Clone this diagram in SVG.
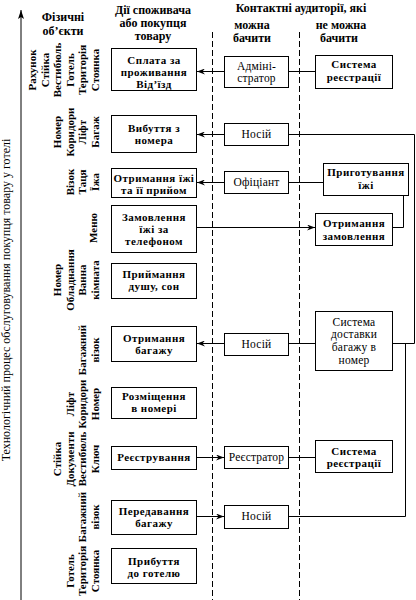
<svg xmlns="http://www.w3.org/2000/svg" width="416" height="600" viewBox="0 0 416 600">
<defs>
<marker id="ah" markerUnits="userSpaceOnUse" markerWidth="8" markerHeight="6" viewBox="0 0 8 6" refX="8" refY="3" orient="auto">
<path d="M0,0 L8,3 L0,6 L2.5,3 z" fill="#000"/>
</marker>
<marker id="axh" markerUnits="userSpaceOnUse" markerWidth="9" markerHeight="6" viewBox="0 0 9 6" refX="9" refY="3" orient="auto">
<path d="M0,0 L9,3 L0,6 L2,3 z" fill="#000"/>
</marker>
<style>
.box{fill:#fff;stroke:#000;stroke-width:1}
.h{font-family:"Liberation Serif","Times New Roman",serif;font-weight:bold;font-size:12px;text-anchor:middle;fill:#000}
.b{font-family:"Liberation Serif","Times New Roman",serif;font-weight:bold;font-size:11px;letter-spacing:0.45px;text-anchor:middle;fill:#000}
.n{font-family:"Liberation Serif","Times New Roman",serif;font-size:11.5px;letter-spacing:0.2px;text-anchor:middle;fill:#000}
.ax{font-family:"Liberation Serif","Times New Roman",serif;font-size:12px;text-anchor:middle;fill:#000}
.po{font-family:"Liberation Serif","Times New Roman",serif;font-weight:bold;font-size:11px;text-anchor:middle;fill:#000}
.dash{stroke:#000;stroke-width:1;stroke-dasharray:6 3;fill:none}
.c{stroke:#000;stroke-width:1;fill:none}
</style>
</defs>
<rect x="0" y="0" width="416" height="600" fill="#fff"/>

<g id="axis">
<line class="c" x1="21" y1="600" x2="21" y2="10" marker-end="url(#axh)"/>
<text class="ax" transform="translate(10,300) rotate(-90)">Технологічний процес обслуговування покупця товару у готелі</text>
</g>

<g id="headers">
<text class="h" x="63" y="21">Фізичні</text>
<text class="h" x="63" y="34.5">об’єкти</text>
<text class="h" x="153" y="13.5">Дії споживача</text>
<text class="h" x="153" y="26.8">або покупця</text>
<text class="h" x="153" y="40.1">товару</text>
<text class="h" x="301" y="12">Контактні аудиторії, які</text>
<text class="h" x="252" y="28.5">можна</text>
<text class="h" x="252" y="41.8">бачити</text>
<text class="h" x="341" y="28.5">не можна</text>
<text class="h" x="339" y="41.8">бачити</text>
</g>

<g id="separators">
<line class="dash" x1="212.5" y1="32" x2="212.5" y2="600"/>
<line class="dash" x1="299.5" y1="32" x2="299.5" y2="600"/>
</g>

<g id="objects">
<text class="po" transform="translate(36,70) rotate(-90)"><tspan x="0" y="0">Рахунок</tspan><tspan x="0" y="12.5">Стійка</tspan><tspan x="0" y="25">Вестибюль</tspan><tspan x="0" y="37.5">Готель</tspan><tspan x="0" y="50">Територія</tspan><tspan x="0" y="62.5">Стоянка</tspan></text>
<text class="po" transform="translate(61,132) rotate(-90)"><tspan x="0" y="0">Номер</tspan><tspan x="0" y="12.5">Коридори</tspan><tspan x="0" y="25">Ліфт</tspan><tspan x="0" y="37.5">Багаж</tspan></text>
<text class="po" transform="translate(73.5,182) rotate(-90)"><tspan x="0" y="0">Візок</tspan><tspan x="0" y="12.5">Таця</tspan><tspan x="0" y="25">Їжа</tspan></text>
<text class="po" transform="translate(97,228) rotate(-90)"><tspan x="0" y="0">Меню</tspan></text>
<text class="po" transform="translate(61,280) rotate(-90)"><tspan x="0" y="0">Номер</tspan><tspan x="0" y="12.5">Обладнання</tspan><tspan x="0" y="25">Ванна</tspan><tspan x="0" y="37.5">кімната</tspan></text>
<text class="po" transform="translate(86,350) rotate(-90)"><tspan x="0" y="0">Багажний</tspan><tspan x="0" y="12.5">візок</tspan></text>
<text class="po" transform="translate(73.5,404) rotate(-90)"><tspan x="0" y="0">Ліфт</tspan><tspan x="0" y="12.5">Коридори</tspan><tspan x="0" y="25">Номер</tspan></text>
<text class="po" transform="translate(61,459) rotate(-90)"><tspan x="0" y="0">Стійка</tspan><tspan x="0" y="12.5">Документи</tspan><tspan x="0" y="25">Вестибюль</tspan><tspan x="0" y="37.5">Ключ</tspan></text>
<text class="po" transform="translate(86,517) rotate(-90)"><tspan x="0" y="0">Багажний</tspan><tspan x="0" y="12.5">візок</tspan></text>
<text class="po" transform="translate(73.5,571) rotate(-90)"><tspan x="0" y="0">Готель</tspan><tspan x="0" y="12.5">Територія</tspan><tspan x="0" y="25">Стоянка</tspan></text>
</g>

<g id="connectors">
<path class="c" d="M224,71.5 H197" marker-end="url(#ah)"/>
<path class="c" d="M288,71.5 H315"/>
<path class="c" d="M224,134.5 H197" marker-end="url(#ah)"/>
<path class="c" d="M288,134.5 H414.5 V343.5 H392"/>
<path class="c" d="M224,182.5 H197" marker-end="url(#ah)"/>
<path class="c" d="M288,182.5 H323"/>
<path class="c" d="M403.5,195 V227.5 H392"/>
<path class="c" d="M196,227.5 H315" marker-end="url(#ah)"/>
<path class="c" d="M224,343.5 H197" marker-end="url(#ah)"/>
<path class="c" d="M288,343.5 H315"/>
<path class="c" d="M196,457.5 H224" marker-end="url(#ah)"/>
<path class="c" d="M288,457.5 H315"/>
<path class="c" d="M196,516.5 H224" marker-end="url(#ah)"/>
<path class="c" d="M288,516.5 H405.5 V343.5"/>
</g>

<g id="a1"><rect class="box" x="111.5" y="48.5" width="85" height="42"/><text class="b" x="154" y="63.5">Сплата за</text><text class="b" x="154" y="75.7">проживання</text><text class="b" x="154" y="87.9">Від’їзд</text></g>
<g id="a2"><rect class="box" x="111.5" y="115.5" width="85" height="37"/><text class="b" x="154" y="132">Вибуття з</text><text class="b" x="154" y="144.2">номера</text></g>
<g id="a3"><rect class="box" x="111.5" y="168.5" width="85" height="29"/><text class="b" x="154" y="182">Отримання їжі</text><text class="b" x="154" y="194.2">та її прийом</text></g>
<g id="a4"><rect class="box" x="111.5" y="205.5" width="85" height="47"/><text class="b" x="154" y="220.5">Замовлення</text><text class="b" x="154" y="232.7">їжі за</text><text class="b" x="154" y="244.9">телефоном</text></g>
<g id="a5"><rect class="box" x="111.5" y="263.5" width="85" height="35"/><text class="b" x="154" y="278">Приймання</text><text class="b" x="154" y="290.2">душу, сон</text></g>
<g id="a6"><rect class="box" x="111.5" y="326.5" width="85" height="35"/><text class="b" x="154" y="341.5">Отримання</text><text class="b" x="154" y="353.7">багажу</text></g>
<g id="a7"><rect class="box" x="111.5" y="387.5" width="85" height="31"/><text class="b" x="154" y="400">Розміщення</text><text class="b" x="154" y="412.2">в номері</text></g>
<g id="a8"><rect class="box" x="111.5" y="446.5" width="85" height="23"/><text class="b" x="154" y="461">Реєстрування</text></g>
<g id="a9"><rect class="box" x="111.5" y="500.5" width="85" height="34"/><text class="b" x="154" y="515">Передавання</text><text class="b" x="154" y="527.2">багажу</text></g>
<g id="a10"><rect class="box" x="111.5" y="548.5" width="85" height="35"/><text class="b" x="154" y="565">Прибуття</text><text class="b" x="154" y="577.2">до готелю</text></g>

<g id="b1"><rect class="box" x="224.5" y="56.5" width="64" height="31"/><text class="n" x="256.5" y="69.5">Адміні-</text><text class="n" x="256.5" y="82.2">стратор</text></g>
<g id="b2"><rect class="box" x="224.5" y="123.5" width="64" height="22"/><text class="n" x="256.5" y="138">Носій</text></g>
<g id="b3"><rect class="box" x="224.5" y="171.5" width="64" height="22"/><text class="n" x="256.5" y="186">Офіціант</text></g>
<g id="b4"><rect class="box" x="224.5" y="333.5" width="64" height="22"/><text class="n" x="256.5" y="348">Носій</text></g>
<g id="b5"><rect class="box" x="224.5" y="446.5" width="64" height="22"/><text class="n" x="256.5" y="461">Реєстратор</text></g>
<g id="b6"><rect class="box" x="224.5" y="505.5" width="64" height="23"/><text class="n" x="256.5" y="520">Носій</text></g>

<g id="c1"><rect class="box" x="315.5" y="55.5" width="77" height="33"/><text class="b" x="354" y="68">Система</text><text class="b" x="354" y="81">реєстрації</text></g>
<g id="c2"><rect class="box" x="323.5" y="163.5" width="85" height="32"/><text class="b" x="366" y="176">Приготування</text><text class="b" x="366" y="189">їжі</text></g>
<g id="c3"><rect class="box" x="315.5" y="213.5" width="77" height="32"/><text class="b" x="354" y="227">Отримання</text><text class="b" x="354" y="240">замовлення</text></g>
<g id="c4"><rect class="box" x="315.5" y="311.5" width="77" height="59"/><text class="n" x="354" y="325.5">Система</text><text class="n" x="354" y="338.2">доставки</text><text class="n" x="354" y="350.9">багажу в</text><text class="n" x="354" y="363.6">номер</text></g>
<g id="c5"><rect class="box" x="315.5" y="440.5" width="77" height="32"/><text class="b" x="354" y="454.5">Система</text><text class="b" x="354" y="466.8">реєстрації</text></g>
</svg>
